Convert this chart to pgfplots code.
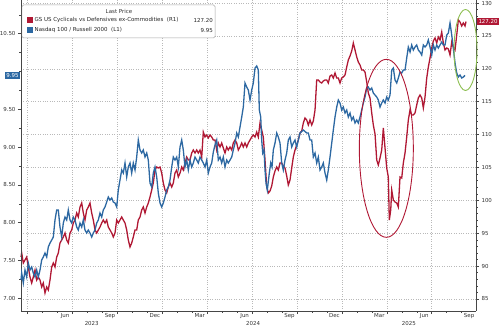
\documentclass[border=0pt]{standalone}
\usepackage{pgfplots}
\pgfplotsset{compat=1.18}
\usepackage{fontspec}
\setmainfont{DejaVu Sans}
\definecolor{bbred}{RGB}{176,24,52}
\definecolor{bbblue}{RGB}{44,104,162}
\definecolor{bbgreen}{RGB}{140,190,80}
\definecolor{gridc}{RGB}{185,185,185}
\definecolor{axc}{RGB}{70,70,70}
\begin{document}
\begin{tikzpicture}[font=\fontsize{5.5}{6.5}\selectfont]
\path[use as bounding box] (-21bp,-16bp) rectangle (479bp,311bp);
\pgfplotsset{
  base/.style={width=455bp,height=311bp,scale only axis,
    xmin=2.553,xmax=32.96,clip=false,
    /pgf/number format/assume math mode=true,
    tick align=outside, major tick length=3bp, minor tick length=1.5bp,
    axis line style={axc,line width=0.6bp}, tick style={axc,line width=0.5bp},
    ticklabel style={font=\fontsize{5.5}{6.5}\selectfont,text=black!80},
  }
}
% ---------- right axis: red series + grid ----------
\begin{axis}[base,
  axis y line*=right, axis x line*=bottom,
  ymin=83.175, ymax=130.475,
  ytick={85,90,...,130}, minor y tick num=4,
  xtick={3,6,...,30}, xticklabels={}, major x tick style={draw=none},
  xmajorgrids, ymajorgrids,
  major grid style={gridc,dotted,line width=0.6bp},
  yticklabel style={xshift=-1bp},
]
\addplot[bbred,line width=1.3bp] coordinates {
(2.553,91.388)(2.600,91.996)(2.707,90.475)(2.820,90.932)(2.934,91.388)(3.041,89.867)
(3.154,88.346)(3.268,87.434)(3.375,88.346)(3.489,89.411)(3.602,87.890)(3.709,88.346)
(3.823,87.890)(3.936,86.825)(4.043,87.434)(4.157,85.913)(4.271,86.825)(4.378,86.369)
(4.491,87.890)(4.605,89.867)(4.712,90.475)(4.825,89.867)(4.939,91.388)(5.046,91.996)
(5.159,93.517)(5.273,93.973)(5.380,94.430)(5.494,95.038)(5.607,93.973)(5.714,93.517)
(5.828,95.038)(5.941,95.494)(6.048,96.559)(6.162,97.015)(6.276,98.080)(6.382,97.471)
(6.496,98.992)(6.610,99.601)(6.717,98.080)(6.830,97.015)(6.944,98.536)(7.051,98.992)
(7.164,99.601)(7.278,98.080)(7.385,97.015)(7.499,95.494)(7.612,95.038)(7.719,95.494)
(7.833,95.951)(7.946,96.559)(8.053,97.015)(8.167,96.559)(8.281,97.015)(8.387,95.951)
(8.501,95.494)(8.615,95.038)(8.722,94.430)(8.835,95.038)(8.949,97.015)(9.056,96.559)
(9.169,97.015)(9.283,97.471)(9.390,97.015)(9.504,96.559)(9.617,95.494)(9.724,93.973)
(9.838,92.909)(9.951,93.517)(10.058,94.430)(10.172,95.494)(10.285,95.494)(10.392,97.015)
(10.506,97.471)(10.620,98.536)(10.727,98.992)(10.840,98.080)(10.954,98.992)(11.061,99.601)
(11.174,100.513)(11.288,101.578)(11.395,102.643)(11.508,104.620)(11.622,105.076)(11.729,104.924)
(11.843,105.076)(11.956,104.163)(12.063,102.643)(12.177,101.578)(12.290,101.122)(12.397,102.034)
(12.511,102.643)(12.625,102.034)(12.731,102.643)(12.845,104.163)(12.959,104.620)(13.066,103.555)
(13.179,104.163)(13.293,105.076)(13.400,104.620)(13.513,105.684)(13.627,106.597)(13.734,106.141)
(13.848,106.141)(13.961,107.205)(14.068,107.661)(14.182,107.205)(14.295,107.661)(14.402,107.205)
(14.516,107.661)(14.630,106.597)(14.736,110.399)(14.850,109.639)(14.964,109.943)(15.071,109.487)
(15.184,109.943)(15.298,109.639)(15.405,109.182)(15.518,109.182)(15.632,107.661)(15.739,108.726)
(15.853,108.118)(15.966,108.726)(16.073,107.966)(16.187,107.205)(16.300,108.118)(16.407,107.661)
(16.521,108.118)(16.635,107.661)(16.741,108.726)(16.855,109.182)(16.969,108.726)(17.076,107.661)
(17.189,108.118)(17.303,108.726)(17.410,108.118)(17.523,108.726)(17.637,108.118)(17.744,108.726)
(17.858,109.182)(17.971,109.639)(18.078,109.943)(18.192,109.639)(18.305,110.399)(18.412,109.639)
(18.526,111.768)(18.639,110.703)(18.746,109.639)(18.860,106.141)(18.974,102.034)(19.081,101.122)
(19.194,101.426)(19.308,102.186)(19.415,103.555)(19.528,104.468)(19.642,105.076)(19.749,104.620)
(19.862,105.684)(19.976,105.684)(20.083,105.228)(20.197,104.924)(20.310,103.707)(20.417,102.338)
(20.531,103.099)(20.644,104.924)(20.751,106.597)(20.865,107.661)(20.979,108.422)(21.086,109.182)
(21.199,110.247)(21.313,110.551)(21.420,111.768)(21.533,112.528)(21.647,112.224)(21.754,111.464)
(21.867,112.224)(21.981,111.464)(22.088,112.072)(22.202,113.745)(22.315,118.308)(22.422,118.308)
(22.536,118.004)(22.649,117.852)(22.756,118.156)(22.870,118.308)(22.984,118.308)(23.090,117.852)
(23.204,118.916)(23.318,119.068)(23.425,118.612)(23.538,119.372)(23.652,118.612)(23.759,118.612)
(23.872,117.852)(23.986,118.612)(24.093,118.764)(24.207,119.068)(24.320,120.285)(24.427,121.350)
(24.541,121.958)(24.654,122.718)(24.761,123.935)(24.875,122.870)(24.989,121.806)(25.095,121.045)
(25.209,120.589)(25.323,119.829)(25.430,119.829)(25.543,119.525)(25.657,118.004)(25.764,116.331)
(25.877,115.570)(25.991,113.289)(26.098,111.464)(26.212,110.095)(26.325,106.141)(26.432,105.380)
(26.546,106.445)(26.659,107.661)(26.766,111.007)(26.880,107.966)(26.993,104.924)(27.100,103.555)
(27.167,97.015)(27.261,98.536)(27.328,101.578)(27.435,100.057)(27.548,99.753)(27.662,99.601)
(27.769,98.992)(27.882,103.555)(27.996,103.403)(28.103,105.684)(28.217,107.205)(28.330,109.639)
(28.437,112.224)(28.551,113.745)(28.664,112.985)(28.771,112.985)(28.885,113.289)(28.998,114.506)
(29.105,115.570)(29.219,116.026)(29.333,115.570)(29.440,114.049)(29.553,115.722)(29.667,118.612)
(29.774,120.285)(29.887,121.654)(30.001,123.175)(30.108,124.239)(30.221,124.696)(30.335,123.935)
(30.442,124.848)(30.556,124.391)(30.669,125.608)(30.776,123.935)(30.890,122.870)(31.003,123.175)
(31.110,123.023)(31.224,122.110)(31.338,124.087)(31.444,123.327)(31.558,122.870)(31.672,125.152)
(31.779,127.433)(31.892,127.129)(32.006,126.521)(32.113,126.977)(32.226,126.521)(32.293,127.20)
};
\node[fill=bbred,text=white,inner sep=1.3bp,anchor=west,font=\fontsize{5.5}{6.5}\selectfont]
  at (axis cs:32.96,127.2) [xshift=1bp] {127.20};
\end{axis}
% ---------- left axis: blue series + x labels ----------
\begin{axis}[base,
  axis y line*=left, axis x line*=bottom,
  ymin=6.832, ymax=10.946,
  ytick={7,7.5,8,8.5,9,9.5,10.5}, minor ytick={7.25,7.75,8.25,8.75,9.25,9.75,10,10.25,10.75},
  yticklabel={\pgfmathprintnumber[fixed,fixed zerofill,precision=2]{\tick}},
  xtick={3,6,...,30}, xticklabels={},
  minor xtick={4,5,7,8,10,11,13,14,16,17,19,20,22,23,25,26,28,29,31,32},
  extra x ticks={5.5,8.5,11.5,14.5,17.5,20.5,23.5,26.5,29.5,32.5},
  extra x tick labels={Jun,Sep,Dec,Mar,Jun,Sep,Dec,Mar,Jun,Sep},
  extra x tick style={major tick length=0pt,grid=none},
  xticklabel style={yshift=1bp},
  yticklabel style={xshift=1bp},
]
\addplot[bbblue,line width=1.3bp] coordinates {
(2.553,7.242)(2.600,7.335)(2.707,7.202)(2.820,7.374)(2.934,7.282)(3.041,7.467)
(3.154,7.374)(3.268,7.414)(3.375,7.335)(3.489,7.282)(3.602,7.374)(3.709,7.282)
(3.823,7.374)(3.936,7.507)(4.043,7.546)(4.157,7.599)(4.271,7.546)(4.378,7.679)
(4.491,7.731)(4.605,7.771)(4.712,7.811)(4.825,8.036)(4.939,8.168)(5.046,8.168)
(5.159,7.943)(5.273,7.811)(5.380,7.996)(5.494,8.075)(5.607,8.036)(5.714,8.168)
(5.828,8.036)(5.941,7.996)(6.048,8.075)(6.162,8.036)(6.276,7.943)(6.382,7.903)
(6.496,7.996)(6.610,7.943)(6.717,8.036)(6.830,7.903)(6.944,7.864)(7.051,7.903)
(7.164,7.864)(7.278,7.811)(7.385,7.864)(7.499,7.903)(7.612,7.996)(7.719,8.036)
(7.833,8.128)(7.946,8.075)(8.053,8.168)(8.167,8.208)(8.281,8.274)(8.387,8.340)
(8.501,8.300)(8.615,8.327)(8.722,8.274)(8.835,8.261)(8.949,8.208)(9.056,8.433)
(9.169,8.565)(9.283,8.697)(9.390,8.657)(9.504,8.790)(9.617,8.605)(9.724,8.737)
(9.838,8.790)(9.951,8.657)(10.058,8.790)(10.172,8.697)(10.285,8.869)(10.392,9.094)
(10.506,8.962)(10.620,8.922)(10.727,8.962)(10.840,8.869)(10.954,8.922)(11.061,8.829)
(11.174,8.525)(11.288,8.472)(11.395,8.657)(11.508,8.737)(11.622,8.605)(11.729,8.393)
(11.843,8.261)(11.956,8.208)(12.063,8.261)(12.177,8.340)(12.290,8.433)(12.397,8.472)
(12.511,8.565)(12.625,8.737)(12.731,8.869)(12.845,8.829)(12.959,8.869)(13.066,8.737)
(13.179,9.001)(13.293,9.094)(13.400,8.962)(13.513,8.737)(13.627,8.829)(13.734,8.697)
(13.848,8.829)(13.961,8.737)(14.068,8.790)(14.182,8.869)(14.295,8.829)(14.402,8.790)
(14.516,8.869)(14.630,8.829)(14.736,8.790)(14.850,8.737)(14.964,8.829)(15.071,8.657)
(15.184,8.737)(15.298,8.790)(15.405,8.935)(15.518,9.028)(15.632,9.094)(15.739,8.829)
(15.853,8.869)(15.966,8.790)(16.073,8.869)(16.187,8.737)(16.300,8.829)(16.407,8.790)
(16.521,8.829)(16.635,8.869)(16.741,8.962)(16.855,9.054)(16.969,9.187)(17.076,9.134)
(17.189,9.266)(17.303,9.398)(17.410,9.530)(17.523,9.848)(17.637,9.795)(17.744,9.755)
(17.858,9.623)(17.971,9.755)(18.078,9.848)(18.192,10.046)(18.305,10.073)(18.412,10.020)
(18.479,9.491)(18.573,9.398)(18.639,9.094)(18.706,8.922)(18.793,8.962)(18.860,8.697)
(18.927,8.525)(19.014,8.433)(19.147,8.657)(19.241,8.790)(19.328,8.737)(19.415,8.962)
(19.528,9.054)(19.642,9.187)(19.749,9.134)(19.862,9.054)(19.976,8.790)(20.083,8.697)
(20.197,8.829)(20.310,8.922)(20.417,9.094)(20.531,9.134)(20.644,9.001)(20.751,9.054)
(20.865,9.094)(20.979,9.001)(21.086,9.094)(21.199,9.187)(21.420,9.226)(21.647,9.187)
(21.754,9.187)(21.867,9.094)(21.981,9.094)(22.088,8.869)(22.202,8.922)(22.315,8.790)
(22.422,8.869)(22.536,8.697)(22.649,8.737)(22.756,8.790)(22.870,8.657)(22.984,8.565)
(23.090,8.697)(23.204,8.869)(23.318,9.054)(23.425,9.226)(23.538,9.398)(23.652,9.530)
(23.759,9.623)(23.872,9.583)(23.986,9.491)(24.093,9.530)(24.207,9.451)(24.320,9.491)
(24.427,9.398)(24.541,9.451)(24.654,9.359)(24.761,9.398)(24.875,9.319)(24.989,9.359)
(25.095,9.319)(25.209,9.398)(25.323,9.491)(25.430,9.583)(25.543,9.663)(25.657,9.782)
(25.764,9.795)(25.877,9.755)(25.991,9.782)(26.098,9.716)(26.212,9.689)(26.325,9.663)
(26.432,9.623)(26.546,9.530)(26.659,9.583)(26.766,9.623)(26.880,9.583)(26.993,9.663)
(27.100,9.623)(27.214,9.689)(27.328,10.020)(27.435,10.046)(27.548,9.888)(27.662,9.848)
(27.769,9.914)(27.882,9.994)(27.996,9.980)(28.103,10.020)(28.217,10.020)(28.330,10.179)
(28.437,10.324)(28.551,10.258)(28.664,10.351)(28.771,10.284)(28.885,10.324)(28.998,10.351)
(29.105,10.284)(29.219,10.258)(29.333,10.218)(29.440,10.351)(29.553,10.324)(29.667,10.351)
(29.774,10.417)(29.887,10.324)(30.001,10.218)(30.108,10.351)(30.221,10.284)(30.335,10.351)
(30.442,10.311)(30.556,10.351)(30.669,10.390)(30.776,10.351)(30.890,10.351)(31.003,10.483)
(31.110,10.509)(31.224,10.642)(31.338,10.483)(31.444,10.311)(31.558,10.112)(31.672,9.980)
(31.779,9.927)(31.892,9.954)(32.006,9.914)(32.113,9.927)(32.226,9.95)
};
\draw[bbred,line width=0.9bp] (axis cs:26.967,8.984) ellipse [x radius=27bp,y radius=89bp];
\draw[bbgreen,line width=0.9bp] (axis cs:32.26,10.285) ellipse [x radius=11.5bp,y radius=40.5bp];
\node[fill=bbblue,text=white,inner sep=1.3bp,anchor=east,font=\fontsize{5.5}{6.5}\selectfont]
  at (axis cs:2.553,9.95) [xshift=-1bp] {9.95};
% year labels and separators
\node[text=black!80] at (axis cs:7.28,6.832) [yshift=-12bp] {2023};
\node[text=black!80] at (axis cs:18.06,6.832) [yshift=-12bp] {2024};
\node[text=black!80] at (axis cs:28.48,6.832) [yshift=-12bp] {2025};
\draw[axc,line width=0.4bp] (axis cs:12,6.832) ++(0,-8bp) -- ++(0,-8bp);
\draw[axc,line width=0.4bp] (axis cs:24,6.832) ++(0,-8bp) -- ++(0,-8bp);
\end{axis}
% ---------- legend ----------
\draw[gray!70,fill=white,rounded corners=1.5bp,line width=0.5bp] (1bp,306bp) rectangle (194bp,273bp);
\node[text=black!80] at (98bp,300bp) {Last Price};
\fill[bbred] (6bp,288bp) rectangle (11.5bp,293.5bp);
\node[anchor=west,text=black!85,inner sep=0pt] at (13.5bp,290.8bp) {GS US Cyclicals vs Defensives ex-Commodities\ \ (R1)};
\node[anchor=east,text=black!85,inner sep=0pt] at (192bp,290.8bp) {127.20};
\fill[bbblue] (6bp,278bp) rectangle (11.5bp,283.5bp);
\node[anchor=west,text=black!85,inner sep=0pt] at (13.5bp,280.8bp) {Nasdaq 100 / Russell 2000\ \ (L1)};
\node[anchor=east,text=black!85,inner sep=0pt] at (192bp,280.8bp) {9.95};
\end{tikzpicture}
\end{document}
